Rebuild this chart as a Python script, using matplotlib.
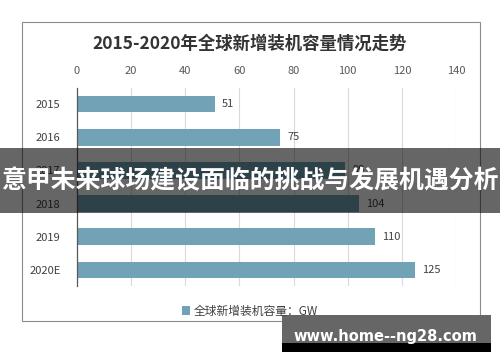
import matplotlib
matplotlib.use("Agg")
import matplotlib.pyplot as plt
from matplotlib.patches import Rectangle

plt.rcParams['font.family'] = ['Noto Sans CJK SC', 'DejaVu Sans']

categories = ["2015", "2016", "2017", "2018", "2019", "2020E"]
values = [51, 75, 99, 104, 110, 125]
xticks = [0, 20, 40, 60, 80, 100, 120, 140]
title = "2015-2020年全球新增装机容量情况走势"
legend_label = "全球新增装机容量：GW"
banner = "意甲未来球场建设面临的挑战与发展机遇分析"
watermark = "www.home--ng28.com"

bar_color = "#72A2B5"

fig = plt.figure(figsize=(5, 3.62), dpi=100)
fig.patch.set_facecolor("white")

# outer chart frame
fig.patches.append(Rectangle((0.044, 0.1133), 0.916, 0.8257, transform=fig.transFigure,
                             fill=False, edgecolor="#8c8c8c", linewidth=0.8, zorder=0))

ax = fig.add_axes([0.154, 0.2086, 0.758, 0.5494])
y = list(range(len(categories)))
bars = ax.barh(y, values, height=0.5, color=bar_color, zorder=2, label=legend_label)
ax.set_xlim(0, 140)
ax.set_ylim(len(categories) - 0.5, -0.5)
ax.set_yticks(y)
ax.set_yticklabels(categories, fontsize=8, color="#404040")
ax.set_xticks(xticks)
ax.set_xticklabels([str(t) for t in xticks], fontsize=8, color="#595959")
ax.xaxis.tick_top()
ax.tick_params(axis='both', length=0, pad=12)
ax.tick_params(axis='x', pad=8)
ax.grid(axis='x', color="#d9d9d9", linewidth=0.8, zorder=0)
for s in ["top", "right", "bottom"]:
    ax.spines[s].set_visible(False)
ax.spines["left"].set_color("#595959")
ax.spines["left"].set_linewidth(0.9)

for yi, v in zip(y, values):
    ax.text(v + 2.6, yi, str(v), va='center', ha='left', fontsize=8, color="#404040")

fig.text(0.5, 1 - 44 / 362, title, ha='center', va='center', fontsize=12.5,
         fontweight='bold', color="#333333")

fig.legend(handles=[bars], labels=[legend_label], loc='center',
           bbox_to_anchor=(0.5, 1 - 311 / 362), frameon=False, fontsize=8.5,
           handlelength=0.7, handleheight=0.7, handletextpad=0.3, labelcolor="#404040")

# overlay banner
fig.patches.append(Rectangle((0, 1 - 213 / 362), 1, 65 / 362, transform=fig.transFigure,
                             facecolor="black", alpha=0.6, edgecolor="none", zorder=5))
fig.text(0.5, 1 - 181 / 362, banner, ha='center', va='center', fontsize=17.9,
         fontweight='bold', color="white", zorder=6)

# watermark box
fig.patches.append(Rectangle((282 / 500, 1 - 352 / 362), 209 / 500, 37 / 362,
                             transform=fig.transFigure, facecolor="black",
                             edgecolor="none", zorder=5))
fig.patches.append(Rectangle((282 / 500, 1 - 343 / 362), 209 / 500, 28 / 362,
                             transform=fig.transFigure, facecolor="#666666",
                             edgecolor="none", zorder=5))
fig.text(385 / 500, 1 - 336 / 362, watermark, ha='center', va='center', fontsize=10.5,
         fontweight='bold', color="white", family=['DejaVu Sans'], zorder=6)

fig.savefig("out.png", dpi=100)
